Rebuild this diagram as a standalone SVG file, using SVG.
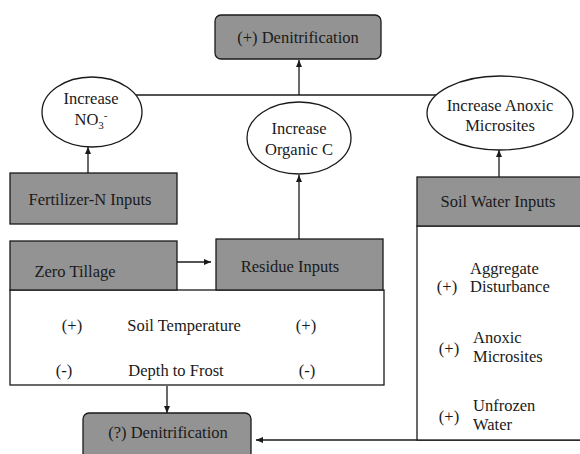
<svg xmlns="http://www.w3.org/2000/svg" width="580" height="454" viewBox="0 0 580 454">
<defs>
<marker id="ah" markerUnits="userSpaceOnUse" markerWidth="8" markerHeight="6" refX="7" refY="3" orient="auto">
<path d="M0,0 L7,3 L0,6 z" fill="#1a1a1a"/>
</marker>
<style>
.t{font-family:"Liberation Serif","Times New Roman",serif;font-size:16.5px;fill:#1a1a1a}
.m{text-anchor:middle}
.g{fill:#939393;stroke:#1a1a1a;stroke-width:1.3}
.w{fill:#ffffff;stroke:#1a1a1a;stroke-width:1.3}
.c{stroke:#1a1a1a;stroke-width:1.3;fill:none}
</style>
</defs>
<rect width="580" height="454" fill="#ffffff"/>
<g id="connectors">
<line class="c" x1="120" y1="95" x2="460" y2="95"/>
<line class="c" x1="299" y1="95" x2="299" y2="60" marker-end="url(#ah)"/>
<line class="c" x1="88" y1="173" x2="88" y2="147" marker-end="url(#ah)"/>
<line class="c" x1="299" y1="239" x2="299" y2="175" marker-end="url(#ah)"/>
<line class="c" x1="499" y1="177" x2="499" y2="150" marker-end="url(#ah)"/>
<line class="c" x1="177" y1="262" x2="211" y2="262" marker-end="url(#ah)"/>
<line class="c" x1="167" y1="386" x2="167" y2="413" marker-end="url(#ah)"/>
<line class="c" x1="582" y1="440" x2="256" y2="440" marker-end="url(#ah)"/>
</g>
<g id="den-plus">
<rect class="g" x="215" y="15" width="166" height="44" rx="6"/>
<text class="t m" x="298" y="43">(+) Denitrification</text>
</g>
<g id="inc-no3">
<ellipse class="w" cx="92" cy="112" rx="50" ry="35"/>
<text class="t m" x="91" y="104">Increase</text>
<text class="t m" x="91" y="125">NO<tspan font-size="11" dy="4">3</tspan><tspan font-size="11" dy="-10">-</tspan></text>
</g>
<g id="inc-orgc">
<ellipse class="w" cx="299" cy="138" rx="52" ry="36"/>
<text class="t m" x="299" y="134">Increase</text>
<text class="t m" x="299" y="155">Organic C</text>
</g>
<g id="inc-anoxic">
<ellipse class="w" cx="500" cy="113" rx="73" ry="37"/>
<text class="t m" x="500" y="111">Increase Anoxic</text>
<text class="t m" x="500" y="131">Microsites</text>
</g>
<g id="fert">
<rect class="g" x="10" y="173" width="167" height="51"/>
<text class="t m" x="90" y="205">Fertilizer-N Inputs</text>
</g>
<g id="soil-temp">
<rect class="w" x="10" y="290" width="374" height="95"/>
<text class="t m" x="72" y="331">(+)</text>
<text class="t m" x="184" y="331">Soil Temperature</text>
<text class="t m" x="306" y="331">(+)</text>
<text class="t m" x="64" y="376">(-)</text>
<text class="t m" x="176" y="376">Depth to Frost</text>
<text class="t m" x="307" y="376">(-)</text>
</g>
<g id="zero-tillage">
<rect class="g" x="10" y="241" width="167" height="49"/>
<text class="t m" x="75" y="277">Zero Tillage</text>
</g>
<g id="residue">
<rect class="g" x="216" y="239" width="167" height="51"/>
<text class="t m" x="290" y="272">Residue Inputs</text>
</g>
<g id="soil-water">
<rect class="w" x="417" y="226" width="170" height="214"/>
<rect class="g" x="417" y="177" width="170" height="49"/>
<text class="t m" x="498" y="207">Soil Water Inputs</text>
<text class="t m" x="447" y="292">(+)</text>
<text class="t" x="470" y="274">Aggregate</text>
<text class="t" x="470" y="292">Disturbance</text>
<text class="t m" x="449" y="354">(+)</text>
<text class="t" x="473" y="343">Anoxic</text>
<text class="t" x="473" y="362">Microsites</text>
<text class="t m" x="449" y="422">(+)</text>
<text class="t" x="473" y="411">Unfrozen</text>
<text class="t" x="473" y="430">Water</text>
</g>
<g id="den-q">
<rect class="g" x="83" y="413" width="168" height="50" rx="6"/>
<text class="t m" x="168" y="438">(?) Denitrification</text>
</g>
</svg>
